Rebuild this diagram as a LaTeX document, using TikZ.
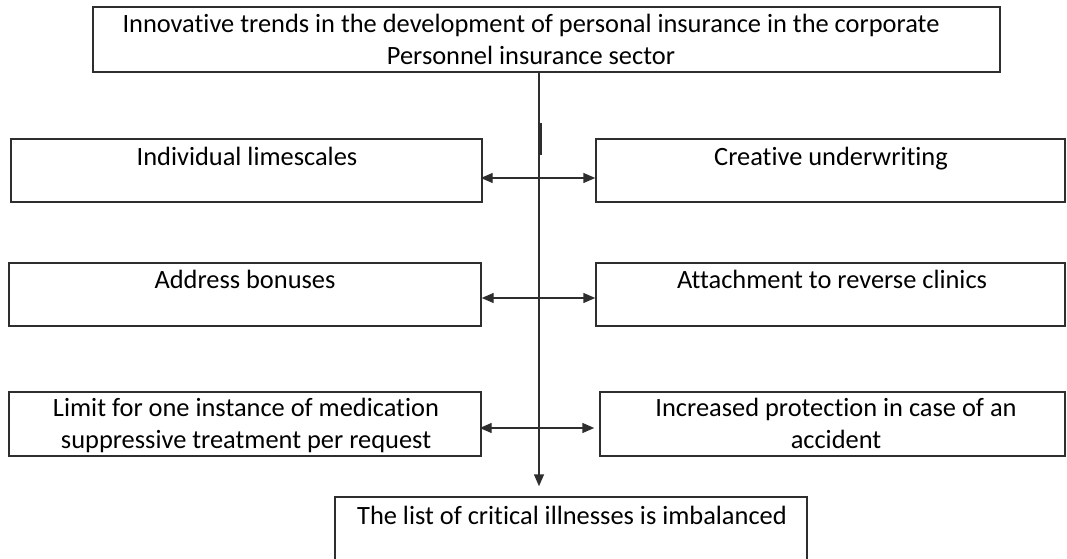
\documentclass[tikz,border=0pt]{standalone}
\usepackage{fontspec}
\setmainfont{Carlito}[Ligatures={NoCommon,NoContextual}]
\usetikzlibrary{arrows.meta,fit}
\definecolor{edge}{HTML}{2E2E2E}
\tikzset{
  box/.style={draw=edge, line width=1.1pt, rectangle, inner sep=0pt, fill=none},
  % nodes are placed by the baseline of their last line
  txt/.style={font=\fontsize{19.8}{24}\selectfont, align=center, inner sep=0pt, text=black, anchor=base},
  link/.style={draw=edge, line width=1.1pt, -{Triangle[length=9pt,width=7.5pt]}},
  biarrow/.style={draw=edge, line width=1.1pt, {Triangle[length=9pt,width=7.5pt]}-{Triangle[length=9pt,width=7.5pt]}},
}
\begin{document}
\begin{tikzpicture}[x=0.75pt, y=-0.75pt]
  \useasboundingbox (0,0) rectangle (1067,559);

  % top box
  \node[box, fit={(93,7) (1000,72)}] (top) {};
  \node[txt] (toptext) at (531,65) {Innovative trends in the development of personal insurance in the corporate\\Personnel insurance sector};

  % left column
  \node[box, fit={(11,139) (482,202)}] (l1) {};
  \node[txt] (l1t) at (247,166) {Individual limescales};
  \node[box, fit={(9,263) (481,326)}] (l2) {};
  \node[txt] (l2t) at (245,289) {Address bonuses};
  \node[box, fit={(9,392) (481,456)}] (l3) {};
  \node[txt] (l3t) at (246,448) {Limit for one instance of medication\\suppressive treatment per request};

  % right column
  \node[box, fit={(596,139) (1065,202)}] (r1) {};
  \node[txt] (r1t) at (831,166) {Creative underwriting};
  \node[box, fit={(596,263) (1065,326)}] (r2) {};
  \node[txt] (r2t) at (832,289) {Attachment to reverse clinics};
  \node[box, fit={(600,392) (1065,456)}] (r3) {};
  \node[txt] (r3t) at (836,448) {Increased protection in case of an\\accident};

  % bottom box (runs past the lower edge)
  \node[box, fit={(335,497) (807,580)}] (bot) {};
  \node[txt] (bott) at (572,524) {The list of critical illnesses is imbalanced};

  % spine and junctions
  \coordinate (spine) at (539,0);
  \coordinate (j1) at (539,178);
  \coordinate (j2) at (539,298);
  \coordinate (j3) at (539,428);
  \coordinate (tickA) at (541,123);
  \coordinate (tickB) at (541,155);

  \draw[link, shorten >=7.5pt] (top.south -| spine) -- (bot.north -| spine);
  \draw[draw=edge, line width=1.1pt] (tickA) -- (tickB);

  \draw[biarrow, shorten <=-1.5pt] (l1.east |- j1) -- (r1.west |- j1);
  \draw[biarrow] (l2.east |- j2) -- (r2.west |- j2);
  \draw[biarrow, shorten <=-1.5pt, shorten >=3.75pt] (l3.east |- j3) -- (r3.west |- j3);
\end{tikzpicture}
\end{document}
